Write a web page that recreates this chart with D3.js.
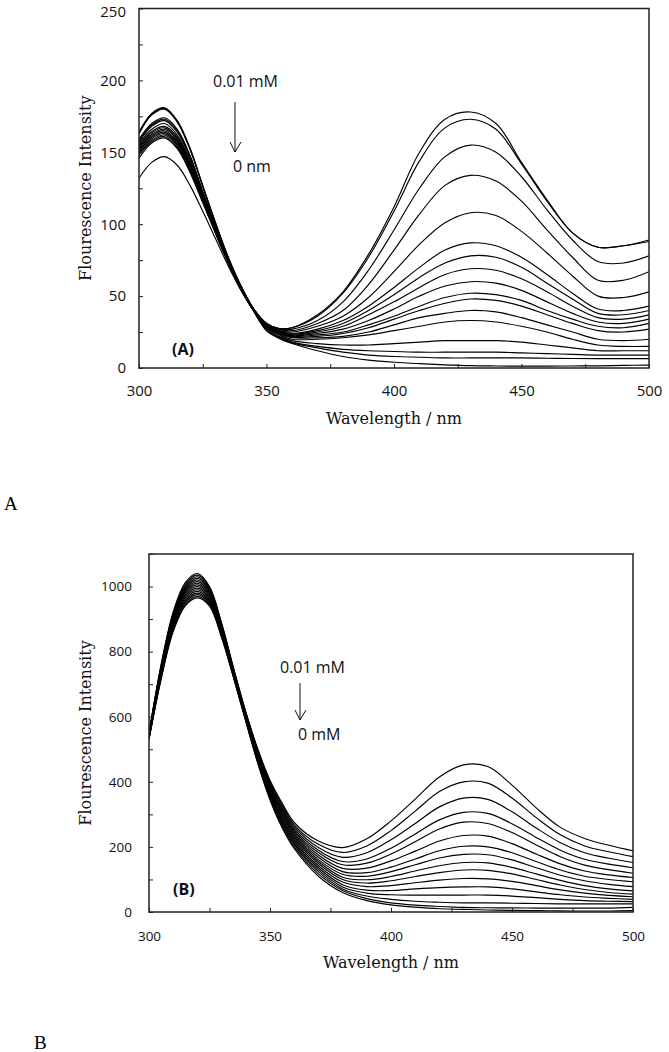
<!DOCTYPE html>
<html><head><meta charset="utf-8">
<script src="https://cdn.jsdelivr.net/npm/d3@7"></script>
<style>body{margin:0;background:#fff} svg{display:block}</style>
</head><body><svg id="c" width="669" height="1052"></svg>
<script>
const wavelengths = [300,305,310,315,320,325,330,335,340,345,350,355,360,370,380,390,400,410,420,430,440,450,460,470,480,490,500];

const intensityA = [
 [164,177,181,172,153,127,101,77,57,41, 31,27.5,28,37,53,79,112,150,173,178,170,143,117,94,84,85,89],
 [163,176.5,180.5,171.5,152.5,126.5,101,77,57,41, 31,27.5,28,36,52,77,109,144,167,173,166,142,116,94,84,85,88],
 [163,176,180,171,152,126,100,76,57,41, 31,27,27,33,46,68,96,125,147,155,150,133,110,89,74,73,78],
 [159,170,174,166,148,123,99,76,56.5,41, 31,27,26,31,40,58,82,107,127,134,130,116,96,77,61,61,67],
 [158,169,173,165,147,122,98.5,75.5,56.5,41, 30,26,25,29,36,49,67,86,101,108,106,95,80,64,50,49,53],
 [157,168,172,164,146,121.5,98,75.5,56,40.5, 30,26,24,27,33,43,56,70,82,87,85,77,65,52,41,40,43],
 [156,166,170,162,144.5,120.5,97.5,75,56,40.5, 30,25.5,23.5,26,31,40,51,63,73,78,77,70,59,48,38,37,40],
 [155,164.5,168,160.5,143,119.5,97,75,56,40.5, 30,25,23,25,29,37,46,56,65,69,68,62,53,43,35,34,37],
 [154,163.5,167,159.5,142,119,96.5,74.5,55.5,40.5, 29,25,22.5,24,27,33,41,50,57,60,59,54,46,38,32,31,34],
 [153,162.5,166,158.5,141.5,118.5,96,74.5,55.5,40, 29,24.5,22,23,25,30,36,43,49,52,51,47,40,34,29,28,31],
 [152,161.5,165,157.5,141,118,96,74,55.5,40, 29,24,21.5,22,24,28,34,40,45,48,47,43,37,31,26,25,27],
 [151,160.5,164,156.5,140,117.5,95.5,74,55,40, 28,23.5,21,21,22,25,30,35,38,40,39,35,30,25,20,19,20],
 [150,159.5,163,155.5,139,117,95,73.5,55,40, 28,23,20,20,21,23,26,29,32,33,32,29,25,20,16,15,15],
 [149,158.5,162,154.5,138,116,94.5,73.5,55,40, 27,22,19,17,16,16,17,18,19,19,19,18,16,14,12,12,12],
 [148,157.5,161,153.5,137,115.5,94,73,54.5,39.5, 27,21.5,18,15,13,12,11.5,11,11,11,11,10.5,10,9.5,9,9,9],
 [146,156.5,160,152.5,136,115,93.5,73,54.5,39.5, 26,21,17.5,14,11,9,8,7.5,7,7,7,7,6.8,6.6,6.5,6.5,6.5],
 [132,143,147,141,127,109,90,71,54,39.5, 26,20.5,17,12,8,5.5,4,3,2.2,1.6,1.4,1.3,1.3,1.4,1.5,1.8,2]
];

const intensityB = [
 [550,760,922,1012,1040,1000,888,748,615,500,405,335, 275,218,198,225,280,347,415,452,447,390,320,260,226,205,188],
 [548,757,918,1007,1035,996,885,746,613,497,400,329, 268,208,183,203,250,310,370,400,396,350,290,237,203,185,170],
 [547,754,914,1002,1030,992,882,744,611,494,396,324, 262,198,168,182,222,272,323,350,346,308,258,213,182,165,152],
 [545,751,910,997,1025,988,879,742,609,491,392,319, 256,190,155,163,196,240,283,306,303,271,229,190,162,147,136],
 [544,748,906,993,1020,984,876,740,607,488,388,314, 251,183,145,150,178,216,255,276,272,244,206,170,144,130,119],
 [542,745,902,989,1015,980,873,738,605,485,384,309, 246,175,134,135,157,187,218,235,233,210,178,148,126,114,106],
 [541,742,898,985,1010,976,870,736,603,482,380,304, 241,168,124,121,138,163,188,202,200,182,155,129,110,100,93],
 [540,739,894,981,1005,972,867,734,601,479,376,299, 236,161,116,110,124,145,166,177,176,160,136,113,96,85,78],
 [538,736,890,976,1000,968,864,732,599,476,372,294, 231,155,107,99,109,126,142,152,151,137,117,97,81,71,65],
 [537,733,886,971,995,964,861,730,597,473,368,289, 226,149,100,89,96,109,121,129,128,117,100,83,69,60,55],
 [536,730,882,966,990,960,858,728,595,470,364,284, 221,142,92,78,81,90,98,103,102,94,81,68,58,51,47],
 [534,727,878,961,985,956,855,726,593,467,360,279, 216,136,84,67,66,71,75,77,77,71,62,53,46,42,39],
 [533,724,874,956,980,952,852,724,591,464,356,274, 211,130,77,58,53,52,52,52,52,49,44,39,35,33,32],
 [532,721,870,951,975,948,849,722,589,461,352,269, 206,124,71,49,39,33,30,28,28,27,26,25,25,25,25],
 [531,718,866,946,970,944,846,720,587,458,348,264, 200,117,66,41,28,21,17,14,13,12.5,12,12,12,12,14],
 [530,715,862,941,965,940,843,718,585,455,344,259, 195,110,60,35,22,15,10,8,6,5,4,3.5,3,3,4]
];

const xTickValues = [300,325,350,375,400,425,450,475,500];
const xTickLabels = [300,350,400,450,500];
const yTicksA = [0,25,50,75,100,125,150,175,200,225,250];
const yLabelsA = [0,50,100,150,200,250];
const yTicksB = [0,100,200,300,400,500,600,700,800,900,1000,1100];
const yLabelsB = [0,200,400,600,800,1000];

const svg = d3.select('#c');
const tickFont = "'Open Sans', sans-serif";
const titleFont = "'DejaVu Serif', serif";

function panel(cfg) {
  const x = d3.scaleLinear().domain([300,500]).range([cfg.left, cfg.right]);
  const y = d3.scaleLinear().domain(cfg.yDomain).range([cfg.bottom, cfg.top]);
  const g = svg.append('g');
  const clipId = 'clip' + cfg.id;
  g.append('clipPath').attr('id', clipId).append('rect')
    .attr('x', cfg.left).attr('y', cfg.top).attr('width', cfg.right - cfg.left).attr('height', cfg.bottom - cfg.top);

  const line = d3.line().x((d,i) => x(wavelengths[i])).y(d => y(d)).curve(d3.curveCatmullRom.alpha(0.5));
  g.append('g').attr('clip-path', `url(#${clipId})`)
    .selectAll('path').data(cfg.series).join('path')
    .attr('d', line).attr('fill','none').attr('stroke','#000').attr('stroke-width',1.15);

  const xa = d3.axisBottom(x).tickValues(xTickValues).tickSize(-4).tickPadding(cfg.xPad)
    .tickFormat(d => xTickLabels.includes(d) ? d : '');
  const gx = g.append('g').attr('transform', `translate(0,${cfg.bottom})`).call(xa);
  gx.select('.domain').remove();
  gx.selectAll('line').attr('stroke','#222').attr('stroke-width',1);
  gx.selectAll('text').attr('font-family', tickFont).attr('font-size', cfg.tickSize).attr('fill','#111');

  const ya = d3.axisLeft(y).tickValues(cfg.yTicks).tickSize(-4).tickPadding(cfg.yPad)
    .tickFormat(d => cfg.yLabels.includes(d) ? d : '');
  const gy = g.append('g').attr('transform', `translate(${cfg.left},0)`).call(ya);
  gy.select('.domain').remove();
  gy.selectAll('line').attr('stroke','#222').attr('stroke-width',1);
  gy.selectAll('text').attr('font-family', tickFont).attr('font-size', cfg.tickSize).attr('fill','#111')
    .attr('dy', d => (d === cfg.yDomain[1] && cfg.topNudge) ? '0.5em' : '0.32em');

  g.append('rect').attr('x', cfg.left).attr('y', cfg.top)
    .attr('width', cfg.right - cfg.left).attr('height', cfg.bottom - cfg.top)
    .attr('fill','none').attr('stroke','#222').attr('stroke-width',1.5);

  g.append('text').attr('x', (cfg.left+cfg.right)/2).attr('y', cfg.xTitleY)
    .attr('text-anchor','middle').attr('font-family', titleFont).attr('font-size', 16).attr('fill','#111')
    .text('Wavelength / nm');
  g.append('text').attr('transform', `translate(${cfg.yTitleX},${(cfg.top+cfg.bottom)/2}) rotate(-90)`)
    .attr('text-anchor','middle').attr('font-family', titleFont).attr('font-size', 16).attr('fill','#111')
    .text('Flourescence Intensity');

  g.append('text').attr('x', cfg.tagX).attr('y', cfg.tagY)
    .attr('font-family', tickFont).attr('font-weight','bold').attr('font-size', 16).attr('fill','#111')
    .text(cfg.tag);

  const an = cfg.ann;
  g.append('text').attr('x', an.x1).attr('y', an.y1).attr('font-family', tickFont).attr('font-size', 16).attr('fill','#111').text(an.t1);
  g.append('text').attr('x', an.x2).attr('y', an.y2).attr('font-family', tickFont).attr('font-size', 16).attr('fill','#111').text(an.t2);
  g.append('line').attr('x1', an.ax).attr('x2', an.ax).attr('y1', an.ay1).attr('y2', an.ay2).attr('stroke','#111').attr('stroke-width',1);
  g.append('path').attr('d', `M${an.ax-5},${an.ay2-10}L${an.ax},${an.ay2}L${an.ax+6},${an.ay2-10}`)
    .attr('fill','none').attr('stroke','#111').attr('stroke-width',1);

  svg.append('text').attr('x', cfg.letterX).attr('y', cfg.letterY)
    .attr('font-family', "'Liberation Serif', serif").attr('font-size', 19).attr('fill','#000').text(cfg.letter);
}

panel({id:'A', left:139, right:649, top:8.5, bottom:368, yDomain:[0,250], series:intensityA,
  yTicks:yTicksA, yLabels:yLabelsA, tickSize:15, xPad:17, yPad:13, xTitleY:424, yTitleX:91, topNudge:true,
  tag:'(A)', tagX:172, tagY:355,
  ann:{t1:'0.01 mM', x1:213, y1:87, t2:'0 nm', x2:233, y2:172, ax:235, ay1:102, ay2:152},
  letter:'A', letterX:4, letterY:510});

panel({id:'B', left:149, right:633, top:554, bottom:912, yDomain:[0,1100], series:intensityB,
  yTicks:yTicksB, yLabels:yLabelsB, tickSize:13.5, xPad:19, yPad:17, xTitleY:968, yTitleX:91, topNudge:false,
  tag:'(B)', tagX:173, tagY:895,
  ann:{t1:'0.01 mM', x1:280, y1:673, t2:'0 mM', x2:298, y2:740, ax:300, ay1:683, ay2:720},
  letter:'B', letterX:34, letterY:1049});
</script></body></html>
